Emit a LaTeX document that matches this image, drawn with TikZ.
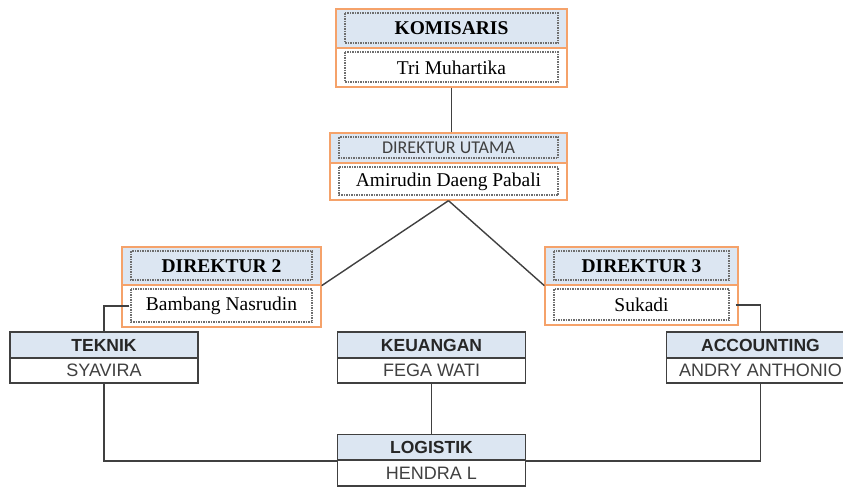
\documentclass[tikz,border=0pt]{standalone}
\usepackage{fontspec}
\setmainfont{Liberation Serif}
\setsansfont{Liberation Sans}
\newfontfamily\carlito{Carlito}
\usepackage{xcolor}
\usetikzlibrary{positioning, calc}
\definecolor{boxOrange}{HTML}{F5A26A}
\definecolor{headBlue}{HTML}{DCE6F2}
\definecolor{lineGray}{HTML}{404040}
\definecolor{dotGray}{HTML}{6E6E6E}

\begin{document}
\begin{tikzpicture}[
    x=1pt, y=-1pt,
    dirhead/.style={draw=boxOrange, line width=1.3pt, fill=headBlue, inner sep=0pt, font=\fontsize{19.5}{22}\selectfont\bfseries, dotbox},
    dirname/.style={draw=boxOrange, line width=1.3pt, fill=white, inner sep=0pt, font=\fontsize{19.5}{22}\selectfont, dotbox},
    dotbox/.style={path picture={\draw[dotGray, densely dotted, line width=1.5pt] ([xshift=9pt,yshift=-4pt]path picture bounding box.north west) rectangle ([xshift=-9pt,yshift=5pt]path picture bounding box.south east);}},
    unithead/.style={draw=lineGray, line width=1.3pt, fill=headBlue, inner sep=0pt, minimum width=188pt, minimum height=26pt, font=\sffamily\bfseries\fontsize{17.5}{20}\selectfont, text=black!85},
    unitname/.style={draw=lineGray, line width=1.3pt, fill=white, inner sep=0pt, minimum width=188pt, minimum height=25pt, font=\sffamily\fontsize{18}{20}\selectfont, text=lineGray},
    link/.style={draw=lineGray, line width=1.4pt},
]
    \useasboundingbox (0,0) rectangle (843,488);

    % direksi
    \node[dirhead, minimum width=231pt, minimum height=39pt] (kom) at (451.5,28.5) {KOMISARIS};
    \node[dirname, minimum width=231pt, minimum height=39pt] (komName) at (451.5,67.5) {Tri Muhartika};
    \node[dirhead, minimum width=237pt, minimum height=30pt, font=\carlito\fontsize{18}{20}\selectfont, text=lineGray] (dirut) at (448.5,148) {DIREKTUR UTAMA};
    \node[dirname, minimum width=237pt, minimum height=37pt] (dirutName) at (448.5,181.5) {Amirudin Daeng Pabali};
    \node[dirhead, minimum width=199pt, minimum height=38pt] (dir2) at (221.5,266) {DIREKTUR 2};
    \node[dirname, minimum width=199pt, minimum height=42pt] (dir2Name) at (221.5,306) {Bambang Nasrudin};
    \node[dirhead, minimum width=193pt, minimum height=38pt] (dir3) at (641.5,266) {DIREKTUR 3};
    \node[dirname, minimum width=193pt, minimum height=40pt] (dir3Name) at (641.5,305) {Sukadi};

    % bagian
    \node[unithead] (tek) at (104,345) {TEKNIK};
    \node[unitname] (tekName) at (104,370.5) {SYAVIRA};
    \node[unithead] (keu) at (431.5,345) {KEUANGAN};
    \node[unitname] (keuName) at (431.5,370.5) {FEGA WATI};
    \node[unithead] (acc) at (760.5,345) {ACCOUNTING};
    \node[unitname] (accName) at (760.5,370.5) {ANDRY ANTHONIO};
    \node[unithead] (log) at (431.5,447.5) {LOGISTIK};
    \node[unitname, minimum height=26pt] (logName) at (431.5,473) {HENDRA L};

    % garis
    \draw[link] (komName.south) -- (komName.south |- dirut.north);
    \draw[link] (dirutName.south) -- (dir2.south east);
    \draw[link] (dirutName.south) -- (dir3.south west);
    \draw[link] ([xshift=8pt]dir2Name.west) -| (tek.north);
    \draw[link] ([xshift=-3pt]dir3Name.east) -| (acc.north);
    \draw[link] (keuName.south) -- (log.north);
    \draw[link] (tekName.south) |- (log.south west);
    \draw[link] (log.south east) -| (accName.south);
\end{tikzpicture}
\end{document}
